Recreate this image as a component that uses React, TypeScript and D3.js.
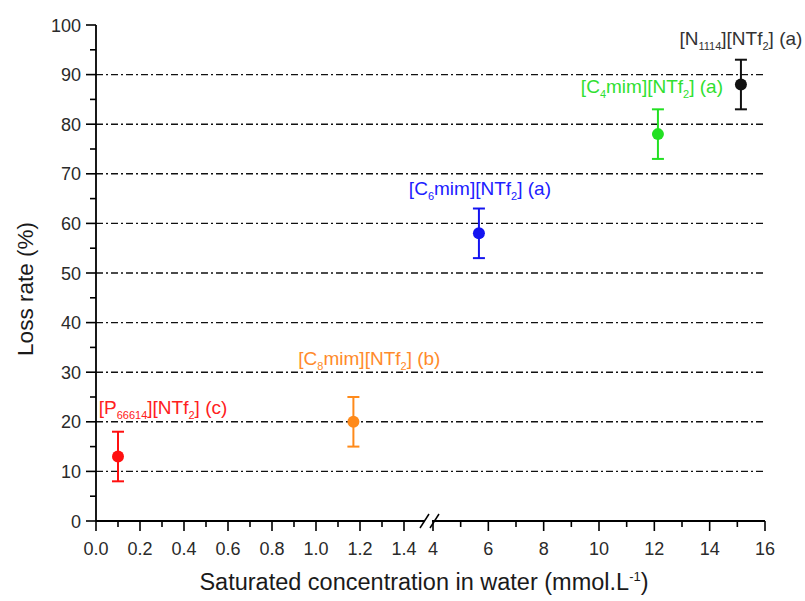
import React from "react";
import * as d3 from "d3";

const names = ["P", "C", "C", "C", "N"];
const subs = ["66614", "8", "6", "4", "1114"];
const mids = ["", "mim", "mim", "mim", ""];
const tags = ["(c)", "(b)", "(a)", "(a)", "(a)"];
const xVals = [0.1, 1.17, 5.66, 12.13, 15.13];
const yVals = [13, 20, 58, 78, 88];
const errVals = [5, 5, 5, 5, 5];
const segment = ["left", "left", "right", "right", "right"];
const colors = ["#ff1010", "#ff8a1a", "#1414f0", "#22e022", "#111111"];
const labelColors = ["#ff2020", "#ff8a2a", "#2020ff", "#30e030", "#333333"];
const labelDx = [45, 16, 1, -6, 0];
const labelDy = [-43, -57, -38, -41, -40];

const leftTicks = [0, 0.2, 0.4, 0.6, 0.8, 1.0, 1.2, 1.4];
const leftMinor = [0.1, 0.3, 0.5, 0.7, 0.9, 1.1, 1.3];
const rightTicks = [4, 6, 8, 10, 12, 14, 16];
const rightMinor = [5, 7, 9, 11, 13, 15];
const yTicks = [0, 10, 20, 30, 40, 50, 60, 70, 80, 90, 100];
const yMinor = [5, 15, 25, 35, 45, 55, 65, 75, 85, 95];
const gridVals = [10, 20, 30, 40, 50, 60, 70, 80, 90];

export default function App() {
  const x0 = 96;
  const xL = d3.scaleLinear().domain([0, 1.5]).range([96, 426]);
  const xR = d3.scaleLinear().domain([4, 16]).range([433, 765]);
  const y = d3.scaleLinear().domain([0, 100]).range([521, 25]);
  const yb = y(0);
  const font = "'Liberation Sans', Arial, sans-serif";
  const xs = (i: number) => (segment[i] === "left" ? xL(xVals[i]) : xR(xVals[i]));
  const tickColor = "#2a2a2a";

  return (
    <svg width={805} height={601} style={{ position: "absolute", left: 0, top: 0, background: "#fff" }} fontFamily={font}>
      <rect width={805} height={601} fill="#fff" />
      {gridVals.map((v) => (
        <line key={"g" + v} x1={x0} x2={765} y1={y(v)} y2={y(v)} stroke="#111" strokeWidth={1.4} strokeDasharray="7,3,2,3" />
      ))}
      <line x1={x0} x2={x0} y1={y(100)} y2={yb} stroke="#000" strokeWidth={1.8} />
      {yTicks.map((v) => (
        <g key={"yt" + v}>
          <line x1={x0 - 10} x2={x0} y1={y(v)} y2={y(v)} stroke="#000" strokeWidth={1.6} />
          <text x={81} y={y(v) + 6.5} textAnchor="end" fontSize={18} fill={tickColor}>{v}</text>
        </g>
      ))}
      {yMinor.map((v) => (
        <line key={"ym" + v} x1={x0 - 6} x2={x0} y1={y(v)} y2={y(v)} stroke="#000" strokeWidth={1.6} />
      ))}
      <line x1={x0} x2={425} y1={yb} y2={yb} stroke="#000" strokeWidth={1.8} />
      <line x1={432} x2={765} y1={yb} y2={yb} stroke="#000" strokeWidth={1.8} />
      <line x1={420} x2={429} y1={yb + 7} y2={yb - 7} stroke="#000" strokeWidth={1.5} />
      <line x1={430} x2={439} y1={yb + 7} y2={yb - 7} stroke="#000" strokeWidth={1.5} />
      {leftTicks.map((v) => (
        <g key={"xl" + v}>
          <line x1={xL(v)} x2={xL(v)} y1={yb} y2={yb + 10} stroke="#000" strokeWidth={1.6} />
          <text x={xL(v)} y={yb + 34} textAnchor="middle" fontSize={18} fill={tickColor}>{v.toFixed(1)}</text>
        </g>
      ))}
      {leftMinor.map((v) => (
        <line key={"xlm" + v} x1={xL(v)} x2={xL(v)} y1={yb} y2={yb + 6} stroke="#000" strokeWidth={1.6} />
      ))}
      {rightTicks.map((v) => (
        <g key={"xr" + v}>
          <line x1={xR(v)} x2={xR(v)} y1={yb} y2={yb + 10} stroke="#000" strokeWidth={1.6} />
          <text x={xR(v)} y={yb + 34} textAnchor="middle" fontSize={18} fill={tickColor}>{v}</text>
        </g>
      ))}
      {rightMinor.map((v) => (
        <line key={"xrm" + v} x1={xR(v)} x2={xR(v)} y1={yb} y2={yb + 6} stroke="#000" strokeWidth={1.6} />
      ))}
      <text x={424} y={590} textAnchor="middle" fontSize={23.5} fill="#1a1a1a">
        Saturated concentration in water (mmol.L<tspan dy={-9} fontSize={13}>-1</tspan><tspan dy={9}>)</tspan>
      </text>
      <text transform={`translate(33,289) rotate(-90)`} textAnchor="middle" fontSize={22.5} fill="#1a1a1a">Loss rate (%)</text>
      {xVals.map((_, i) => {
        const px = xs(i);
        const c = colors[i];
        return (
          <g key={"p" + i}>
            <line x1={px} x2={px} y1={y(yVals[i] - errVals[i])} y2={y(yVals[i] + errVals[i])} stroke={c} strokeWidth={2} />
            <line x1={px - 6} x2={px + 6} y1={y(yVals[i] - errVals[i])} y2={y(yVals[i] - errVals[i])} stroke={c} strokeWidth={2} />
            <line x1={px - 6} x2={px + 6} y1={y(yVals[i] + errVals[i])} y2={y(yVals[i] + errVals[i])} stroke={c} strokeWidth={2} />
            <circle cx={px} cy={y(yVals[i])} r={6} fill={c} />
            <text x={px + labelDx[i]} y={y(yVals[i]) + labelDy[i]} textAnchor="middle" fontSize={19} fill={labelColors[i]}>
              [{names[i]}<tspan dy={5} fontSize={11}>{subs[i]}</tspan><tspan dy={-5}>{mids[i]}][NTf</tspan>
              <tspan dy={5} fontSize={11}>2</tspan><tspan dy={-5}>] {tags[i]}</tspan>
            </text>
          </g>
        );
      })}
    </svg>
  );
}
